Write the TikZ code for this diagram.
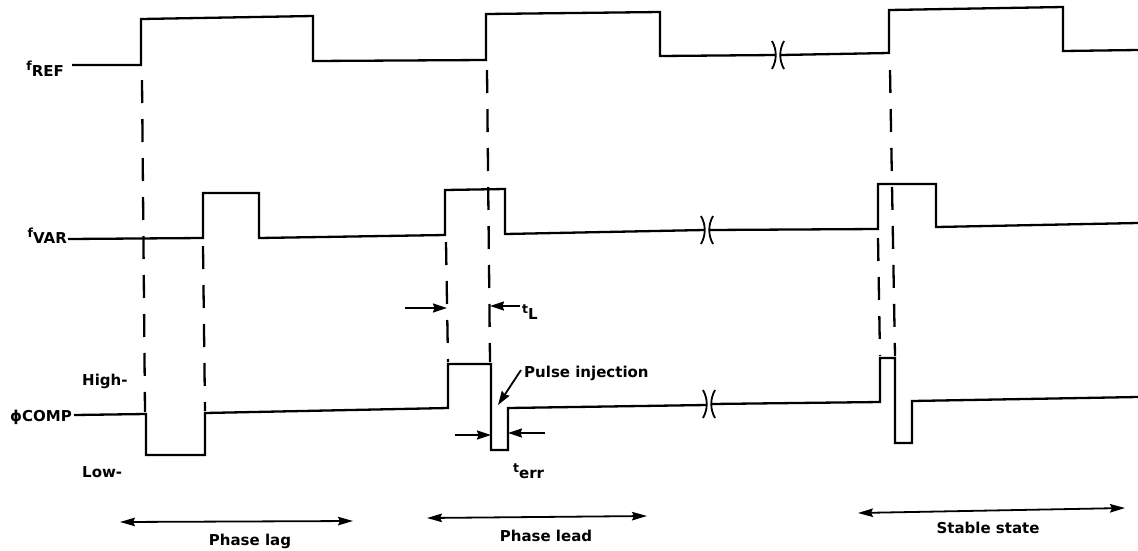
\documentclass[tikz,border=0pt]{standalone}
\usepackage{fontspec}
\setmainfont{DejaVu Sans}
\usetikzlibrary{arrows.meta}
\newcommand{\sigl}[2]{{\fontsize{12.5}{13}\selectfont\raisebox{6pt}{#1}}#2}
\tikzset{
  wave/.style={line width=2.3pt, line join=miter},
  guide/.style={line width=2.3pt, dash pattern=on 23pt off 16pt},
  dimarrow/.style={line width=1.8pt, -{Stealth[length=14pt,width=9pt,inset=1.5pt]}},
  spanarrow/.style={line width=1.8pt, {Stealth[length=15pt,width=8.5pt,inset=2pt]}-{Stealth[length=15pt,width=8.5pt,inset=2pt]}},
  lbl/.style={font=\fontsize{15}{17}\selectfont\bfseries, inner sep=0pt},
  brkline/.style={line width=1.8pt},
  breakmark/.pic={
    \draw[brkline] (-6,-14) .. controls (-1,-5) and (-1,5) .. (-6,14);
    \draw[brkline] (6,-14) .. controls (1,-5) and (1,5) .. (6,14);
  }
}
\begin{document}
\begin{tikzpicture}[x=1pt,y=-1pt]
\useasboundingbox (0,0) rectangle (1138,550);

% signal labels
\node[lbl, anchor=base east] (fref) at (64,76) {\sigl{f}{REF}};
\node[lbl, anchor=base east] (fvar) at (67,243) {\sigl{f}{VAR}};
\node[lbl, anchor=base east] (comp) at (72,421) {ϕCOMP};
\node[lbl, anchor=base west] (high) at (82,385) {High-};
\node[lbl, anchor=base west] (low) at (82,477) {Low-};

% f_REF waveform
\draw[wave] (72,65) -- (141,65) -- (141,19) -- (313,16) -- (313,61) -- (486,60) -- (486,14) -- (660,12) -- (660,56) -- (775.5,55);
\pic at (778,55) {breakmark};
\draw[wave] (780.5,55) -- (889,53) -- (889,10) -- (1063,7) -- (1063,51) -- (1138,50);

% f_VAR waveform
\draw[wave] (68,239) -- (203,238) -- (203,193) -- (259,193) -- (259,238) -- (445,235) -- (445,190) -- (505,189) -- (505,234) -- (704.5,230);
\pic at (707,230) {breakmark};
\draw[wave] (709.5,230) -- (878,229) -- (878,184) -- (936,184) -- (936,227) -- (1138,223);

% phi COMP waveform
\draw[wave] (74,415) -- (146,414) -- (146,455) -- (205,455) -- (205,413) -- (448,408) -- (448,364) -- (491,364) -- (491,450) -- (508,450) -- (508,408) -- (706.5,405);
\pic at (709,404) {breakmark};
\draw[wave] (711.5,404) -- (880,402) -- (880,358) -- (895,358) -- (895,443) -- (912,443) -- (912,401) -- (1138,397);

% dashed guide lines
\draw[guide] (142,80) -- (145,412);
\draw[guide] (203,246) -- (205,411);
\draw[guide] (487,70) -- (490,362);
\draw[guide] (446,242) -- (448,362);
\draw[guide] (890,70) -- (895,356);
\draw[guide] (878,238) -- (880,356);

% t_L
\coordinate (tla) at (405,308); \coordinate (tlb) at (447,308);
\coordinate (tlc) at (520,306); \coordinate (tld) at (490,306);
\draw[dimarrow] (tla) -- (tlb);
\draw[dimarrow] (tlc) -- (tld);
\node[lbl, anchor=base west] (tl) at (522,319) {\sigl{t}{L}};

% t_err
\coordinate (tea) at (455,435); \coordinate (teb) at (491,435);
\coordinate (tec) at (545,433); \coordinate (ted) at (508,433);
\draw[dimarrow] (tea) -- (teb);
\draw[dimarrow] (tec) -- (ted);
\node[lbl, anchor=base west] (terr) at (513,478) {\sigl{t}{err}};

% pulse injection
\node[lbl, anchor=base west] (pulse) at (524,377) {Pulse injection};
\coordinate (pulsetip) at (498,405);
\draw[dimarrow] (521,370) -- (pulsetip);

% span arrows
\coordinate (laga) at (120,522); \coordinate (lagb) at (353,521);
\draw[spanarrow] (laga) -- (lagb);
\node[lbl, anchor=base] (lag) at (250,545) {Phase lag};

\coordinate (leada) at (427,518); \coordinate (leadb) at (647,516);
\draw[spanarrow] (leada) -- (leadb);
\node[lbl, anchor=base] (lead) at (546,541) {Phase lead};

\coordinate (stba) at (858,513); \coordinate (stbb) at (1125,508);
\draw[spanarrow] (stba) -- (stbb);
\node[lbl, anchor=base] (stable) at (988,533) {Stable state};
\end{tikzpicture}
\end{document}
